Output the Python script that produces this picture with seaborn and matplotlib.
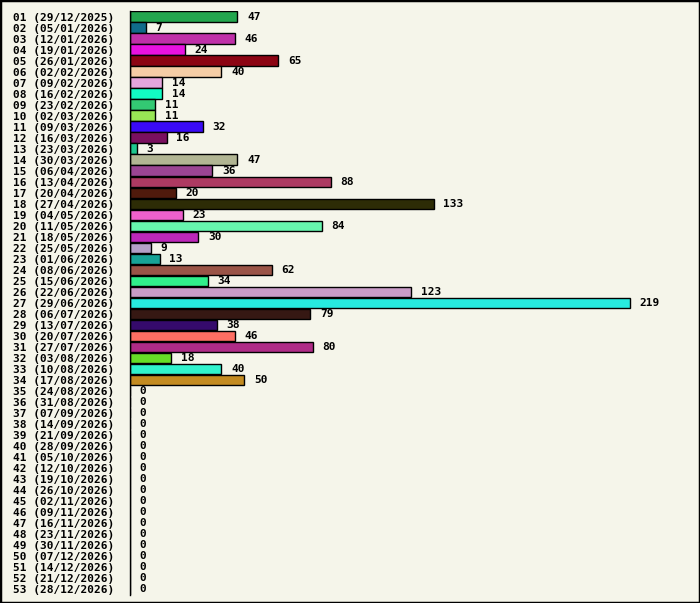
import pandas as pd
import matplotlib.pyplot as plt
import seaborn as sns
from matplotlib.patches import Rectangle

weeks = [f"{i:02d}" for i in range(1, 54)]
dates = ["29/12/2025", "05/01/2026", "12/01/2026", "19/01/2026", "26/01/2026",
         "02/02/2026", "09/02/2026", "16/02/2026", "23/02/2026", "02/03/2026",
         "09/03/2026", "16/03/2026", "23/03/2026", "30/03/2026", "06/04/2026",
         "13/04/2026", "20/04/2026", "27/04/2026", "04/05/2026", "11/05/2026",
         "18/05/2026", "25/05/2026", "01/06/2026", "08/06/2026", "15/06/2026",
         "22/06/2026", "29/06/2026", "06/07/2026", "13/07/2026", "20/07/2026",
         "27/07/2026", "03/08/2026", "10/08/2026", "17/08/2026", "24/08/2026",
         "31/08/2026", "07/09/2026", "14/09/2026", "21/09/2026", "28/09/2026",
         "05/10/2026", "12/10/2026", "19/10/2026", "26/10/2026", "02/11/2026",
         "09/11/2026", "16/11/2026", "23/11/2026", "30/11/2026", "07/12/2026",
         "14/12/2026", "21/12/2026", "28/12/2026"]
counts = [47, 7, 46, 24, 65, 40, 14, 14, 11, 11, 32, 16, 3, 47, 36, 88, 20, 133,
          23, 84, 30, 9, 13, 62, 34, 123, 219, 79, 38, 46, 80, 18, 40, 50] + [0] * 19
colors = ["#23a64e", "#106b8a", "#bf30a8", "#e812e0", "#8c0413", "#f5cda6",
          "#e5a5dc", "#12fbc3", "#33c973", "#98e655", "#3a0af6", "#7a105f",
          "#1fc78f", "#b1b593", "#9a4593", "#ad3a62", "#501a0c", "#2d2c06",
          "#ee60cc", "#67f5ae", "#bc27b9", "#b4a0c7", "#17a397", "#9a5447",
          "#30ef8b", "#c99cc7", "#27eadf", "#361813", "#350a6c", "#fe6e63",
          "#af2b87", "#66dd27", "#30f2cc", "#c38b21"] + ["#888888"] * 19

labels = [f"{w} ({d})" for w, d in zip(weeks, dates)]
df = pd.DataFrame({"label": labels, "count": counts})

bg = "#f5f5ea"
fig = plt.figure(figsize=(7, 6.03), dpi=100, facecolor=bg)
ax = fig.add_axes([130 / 700, 8 / 603, 560 / 700, 584 / 603])
ax.set_facecolor(bg)

sns.barplot(data=df, y="label", x="count", hue="label", palette=colors,
            legend=False, orient="h", width=0.96, edgecolor="black",
            linewidth=1, saturation=1, ax=ax)

ax.set_xlim(0, 245.3)
ax.set_ylim(52.5, -0.5)
ax.set_xlabel("")
ax.set_ylabel("")
ax.set_xticks([])
for s in ["top", "right", "bottom"]:
    ax.spines[s].set_visible(False)
ax.spines["left"].set_linewidth(1)

font = "DejaVu Sans Mono"
ax.tick_params(axis="y", length=0, pad=11.5)
for t in ax.get_yticklabels():
    t.set_fontfamily(font)
    t.set_fontweight("bold")
    t.set_fontsize(8)

for i, v in enumerate(counts):
    ax.annotate(str(v), xy=(v, i), xytext=(7, 0), textcoords="offset points",
                va="center", ha="left", fontsize=8, fontweight="bold",
                fontfamily=font)

fig.patches.append(Rectangle((0, 0), 1, 1, transform=fig.transFigure,
                             fill=False, edgecolor="black", linewidth=2.5))

fig.savefig("out.png", dpi=100, facecolor=bg)
